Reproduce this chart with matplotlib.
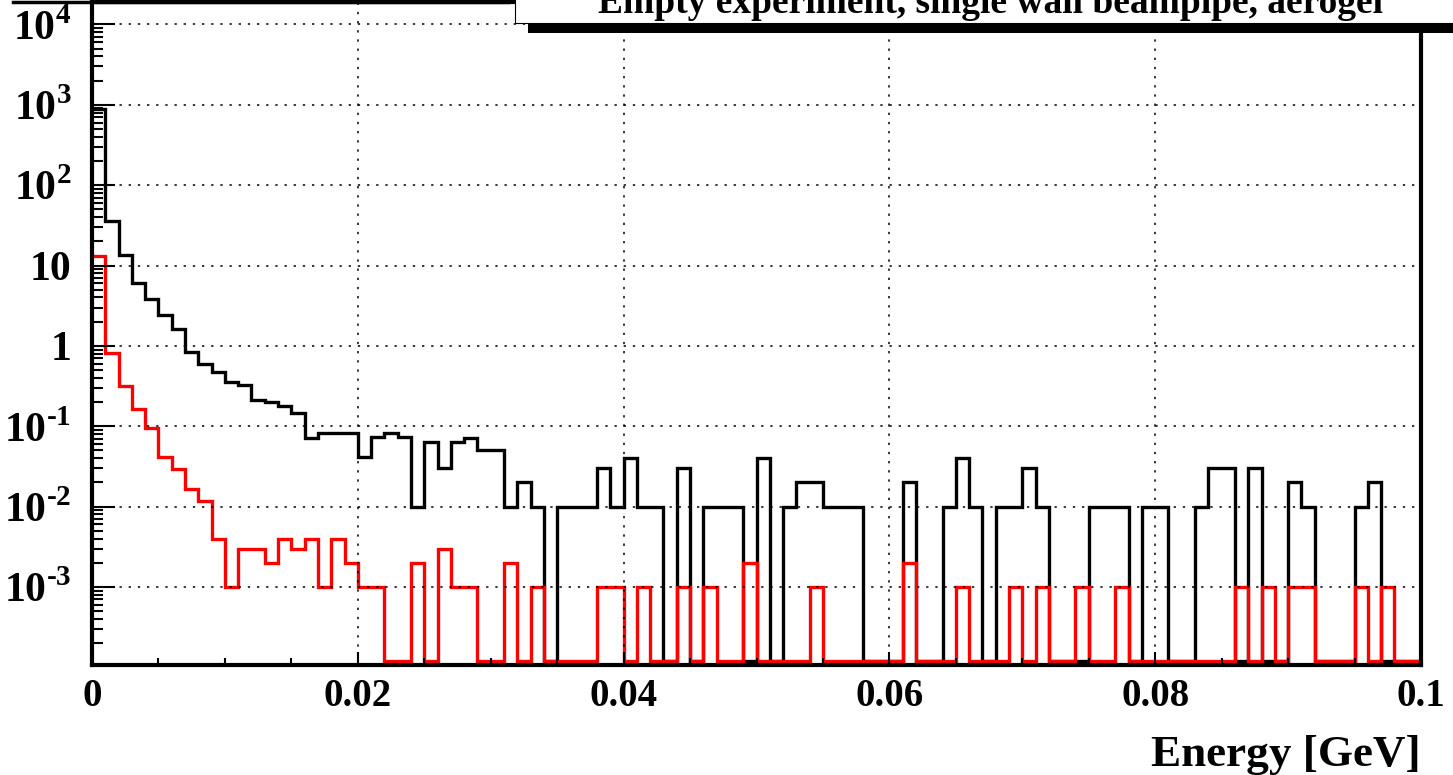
import numpy as np
import matplotlib
matplotlib.use('Agg')
import matplotlib.pyplot as plt
from matplotlib.patches import Rectangle
from matplotlib.lines import Line2D
from matplotlib.ticker import FixedLocator, LogLocator, NullFormatter

plt.rcParams['font.family'] = ['Liberation Serif', 'DejaVu Serif']
plt.rcParams['font.weight'] = 'bold'
plt.rcParams['mathtext.fontset'] = 'custom'
plt.rcParams['mathtext.rm'] = 'Liberation Serif:bold'
plt.rcParams['mathtext.bf'] = 'Liberation Serif:bold'

# 100 bins, 0 - 0.1 GeV
edges = np.linspace(0, 0.1, 101)

all_hits = [
    890, 36, 13.4, 6.0, 3.8, 2.4, 1.6, 0.85, 0.6, 0.47,
    0.36, 0.33, 0.21, 0.2, 0.18, 0.148, 0.072, 0.083, 0.083, 0.083,
    0.041, 0.073, 0.083, 0.073, 0.01, 0.064, 0.03, 0.064, 0.072, 0.051,
    0.051, 0.01, 0.02, 0.01, 0, 0.01, 0.01, 0.01, 0.03, 0.01,
    0.04, 0.01, 0.01, 0, 0.03, 0, 0.01, 0.01, 0.01, 0,
    0.04, 0, 0.01, 0.02, 0.02, 0.01, 0.01, 0.01, 0, 0,
    0, 0.02, 0, 0, 0.01, 0.04, 0.01, 0, 0.01, 0.01,
    0.03, 0.01, 0, 0, 0, 0.01, 0.01, 0.01, 0, 0.01,
    0.01, 0, 0, 0.01, 0.03, 0.03, 0, 0.03, 0, 0,
    0.02, 0.01, 0, 0, 0, 0.01, 0.02, 0, 0, 0]

aerogel_hits = [
    13.3, 0.82, 0.32, 0.163, 0.094, 0.041, 0.029, 0.0168, 0.0116, 0.0039,
    0.001, 0.003, 0.003, 0.002, 0.004, 0.003, 0.004, 0.001, 0.004, 0.002,
    0.001, 0.001, 0, 0, 0.002, 0, 0.003, 0.001, 0.001, 0,
    0, 0.002, 0, 0.001, 0, 0, 0, 0, 0.001, 0.001,
    0, 0.001, 0, 0, 0.001, 0, 0.001, 0, 0, 0.002,
    0, 0, 0, 0, 0.001, 0, 0, 0, 0, 0,
    0, 0.002, 0, 0, 0, 0.001, 0, 0, 0, 0.001,
    0, 0.001, 0, 0, 0.001, 0, 0, 0.001, 0, 0,
    0, 0, 0, 0, 0, 0, 0.001, 0, 0.001, 0,
    0.001, 0.001, 0, 0, 0, 0.001, 0, 0.001, 0, 0]

xticks = [0, 0.02, 0.04, 0.06, 0.08, 0.1]
xticklabels = ['0', '0.02', '0.04', '0.06', '0.08', '0.1']
yticks = [1e-3, 1e-2, 1e-1, 1, 10, 1e2, 1e3, 1e4]
yticklabels = [r'10$^{\text{-}3}$', r'10$^{\text{-}2}$', r'10$^{\text{-}1}$', '1', '10',
               '10$^{2}$', '10$^{3}$', '10$^{4}$']
title = 'Empty experiment, single wall beampipe, aerogel'

W, H = 1453, 775
fig = plt.figure(figsize=(W / 100, H / 100), dpi=100)
ax = fig.add_axes([92 / W, 1 - 665 / H, (1421 - 92) / W, (665 - 2) / H])

ymin, ymax = 1.07e-4, 1.9e4
floor = 1.2e-4  # empty bins are drawn at the frame minimum, as ROOT does

ax.stairs(np.maximum(all_hits, floor), edges, color='black', lw=2.4, baseline=None)
ax.stairs(np.maximum(aerogel_hits, floor), edges, color='red', lw=2.4, baseline=None)

ax.set_yscale('log')
ax.set_xlim(0, 0.1)
ax.set_ylim(ymin, ymax)

ax.xaxis.set_major_locator(FixedLocator(xticks))
ax.set_xticklabels(xticklabels)
ax.xaxis.set_minor_locator(FixedLocator(np.arange(0, 0.1001, 0.005)))
ax.yaxis.set_major_locator(FixedLocator(yticks))
ax.set_yticklabels(yticklabels)
ax.yaxis.set_minor_locator(LogLocator(base=10, subs=np.arange(2, 10), numticks=20))
ax.yaxis.set_minor_formatter(NullFormatter())

ax.tick_params(axis='both', which='both', direction='in', width=1.5, colors='black',
               top=False, right=False)
ax.tick_params(axis='x', which='major', length=9.5, pad=9, labelsize=28)
ax.tick_params(axis='x', which='minor', length=5)
ax.tick_params(axis='y', which='major', length=16.5, pad=15, labelsize=30)
ax.tick_params(axis='y', which='minor', length=8)

ax.grid(True, which='major', color='black', lw=1.1, linestyle=(0, (1.5, 4.5)))
for s in ax.spines.values():
    s.set_linewidth(3)

ax.set_xlabel('Energy [GeV]', fontsize=32.5, fontweight='bold')
ax.xaxis.set_label_coords(1.0, -0.105)
ax.xaxis.label.set_ha('right')

# title pave with shadow
fig.add_artist(Rectangle((528 / W, 1 - 33 / H), (W + 10 - 528) / W, 10 / H,
                         transform=fig.transFigure, facecolor='black',
                         edgecolor='none', zorder=5))
fig.add_artist(Rectangle((515 / W, 1 - 23 / H), (W + 10 - 515) / W, 40 / H,
                         transform=fig.transFigure, facecolor='white',
                         edgecolor='black', lw=0.8, zorder=6))
fig.text(990 / W, 1 - 13 / H, title, ha='center', va='baseline',
         fontsize=27, fontweight='bold', zorder=7)
# edge of the pave above the frame
fig.add_artist(Line2D([13 / W, 508 / W], [1 - 1.5 / H, 1 - 1.5 / H],
                      transform=fig.transFigure, color='black', lw=2.5, zorder=5))

fig.savefig('out.png', dpi=100)
